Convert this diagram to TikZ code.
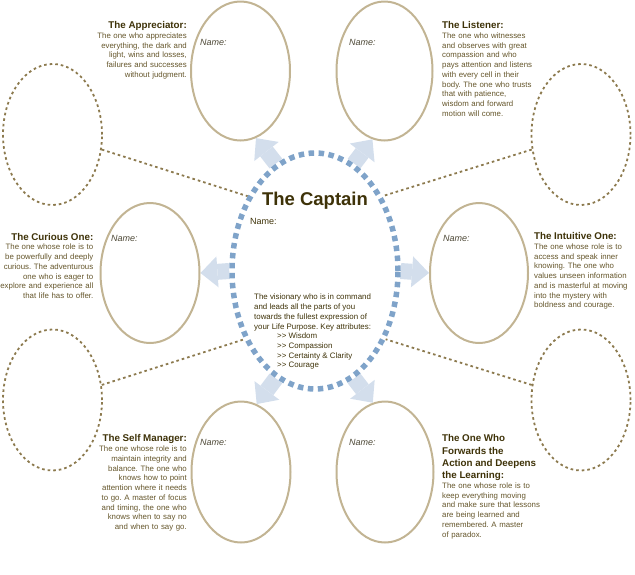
\documentclass[tikz,border=0pt]{standalone}
\usepackage{fontspec}
\setmainfont{Liberation Sans}
\usetikzlibrary{shapes.geometric,arrows.meta,backgrounds}
\definecolor{ellcol}{HTML}{C2B493}
\definecolor{dashcol}{HTML}{8C7A4E}
\definecolor{capcol}{HTML}{7FA3C9}
\definecolor{arrcol}{HTML}{D3DEEC}
\definecolor{titcol}{HTML}{3E3208}
\definecolor{bodcol}{HTML}{64552A}
\definecolor{namecol}{HTML}{4D4836}
\newcommand{\roletitle}{\fontsize{9.8}{12.2}\selectfont\bfseries\color{titcol}}
\newcommand{\attrmark}{>\kern0pt>}
\frenchspacing
\begin{document}
\frenchspacing
\begin{tikzpicture}[x=1pt,y=-1pt,
  role/.style={ellipse, draw=ellcol, line width=2pt, inner sep=0pt},
  ghost/.style={ellipse, draw=dashcol, line width=1.8pt, dash pattern=on 2.6pt off 3pt, minimum width=99pt, minimum height=141pt, inner sep=0pt},
  captain/.style={ellipse, draw=capcol, line width=5.5pt, dash pattern=on 5.5pt off 4.5pt, minimum width=166pt, minimum height=236pt, inner sep=0pt},
  bigarrow/.style={draw=arrcol, line width=16pt, -{Triangle[length=17pt,width=31pt,line width=0pt]}},
  link/.style={draw=dashcol, line width=1.8pt, dash pattern=on 2.6pt off 3pt},
  namelbl/.style={font=\fontsize{9}{11}\selectfont\itshape, text=namecol, anchor=base west, inner sep=0pt},
  desc/.style={inner sep=0pt, text width=130pt, font=\fontsize{7.85}{9.75}\selectfont\frenchspacing, text=bodcol},
]
\useasboundingbox (0,0) rectangle (635,574);

% role ellipses
\node[role, minimum width=99pt, minimum height=139pt] (appr) at (240.5,71) {};
\node[role, minimum width=96pt, minimum height=139pt] (list) at (384.5,71) {};
\node[role, minimum width=99pt, minimum height=140pt] (cur) at (150,273) {};
\node[role, minimum width=98pt, minimum height=140pt] (intu) at (479,273) {};
\node[role, minimum width=99pt, minimum height=141pt] (selfm) at (241,472) {};
\node[role, minimum width=97pt, minimum height=141pt] (forw) at (385,472) {};

% dashed ghost ellipses
\node[ghost] (ld1) at (52.5,134.5) {};
\node[ghost] (rd1) at (581,134.5) {};
\node[ghost] (ld2) at (52.5,400) {};
\node[ghost] (rd2) at (581,400) {};

% captain
\node[captain] (cap) at (315,271) {};

\begin{scope}[on background layer]
  \draw[bigarrow] (cap.110) -- (appr.-77);
  \draw[bigarrow] (cap.70) -- (list.-100);
  \draw[bigarrow] (cap.180) -- (cur.0);
  \draw[bigarrow] (cap.0) -- (intu.180);
  \draw[bigarrow] (cap.250) -- (selfm.77);
  \draw[bigarrow] (cap.290) -- (forw.100);
  \draw[link] (ld1.-17) -- (cap.132);
  \draw[link] (rd1.197) -- (cap.48);
  \draw[link] (ld2.17) -- (cap.224);
  \draw[link] (rd2.163) -- (cap.-44);
\end{scope}

% Name labels
\node[namelbl] (n1) at (200,45) {Name:};
\node[namelbl] (n2) at (349,45) {Name:};
\node[namelbl] (n3) at (111,241.5) {Name:};
\node[namelbl] (n4) at (443,241.5) {Name:};
\node[namelbl] (n5) at (200,445) {Name:};
\node[namelbl] (n6) at (349,445) {Name:};

% captain text
\node[anchor=base, inner sep=0pt, font=\fontsize{18.5}{20}\selectfont\bfseries, text=titcol] (captitle) at (315,205) {The Captain};
\node[anchor=base west, inner sep=0pt, font=\fontsize{9}{11}\selectfont, text=titcol] (capname) at (250,224.5) {Name:};
\node[anchor=north west, align=left, inner sep=0pt, font=\fontsize{7.9}{9.7}\selectfont\frenchspacing, text=titcol] (capdesc) at (254,294) {The visionary who is in command\\
and leads all the parts of you\\
towards the fullest expression of\\
your Life Purpose. Key attributes:\\
\hspace*{23pt}\attrmark{} Wisdom\\
\hspace*{23pt}\attrmark{} Compassion\\
\hspace*{23pt}\attrmark{} Certainty \& Clarity\\
\hspace*{23pt}\attrmark{} Courage};

% role descriptions
\node[desc, anchor=north east, align=right] (tappr) at (187,21.2) {{\roletitle The Appreciator:\par}
The one who appreciates\\
everything, the dark and\\
light, wins and losses,\\
failures and successes\\
without judgment.};

\node[desc, anchor=north west, align=left] (tlist) at (442,21.2) {{\roletitle The Listener:\par}
The one who witnesses\\
and observes with great\\
compassion and who\\
pays attention and listens\\
with every cell in their\\
body. The one who trusts\\
that with patience,\\
wisdom and forward\\
motion will come.};

\node[desc, anchor=north east, align=right] (tcur) at (93.5,232.9) {{\roletitle The Curious One:\par}
The one whose role is to\\
be powerfully and deeply\\
curious. The adventurous\\
one who is eager to\\
explore and experience all\\
that life has to offer.};

\node[desc, anchor=north west, align=left] (tintu) at (534,232.4) {{\roletitle The Intuitive One:\par}
The one whose role is to\\
access and speak inner\\
knowing. The one who\\
values unseen information\\
and is masterful at moving\\
into the mystery with\\
boldness and courage.};

\node[desc, anchor=north east, align=right] (tselfm) at (187,434.6) {{\roletitle The Self Manager:\par}
The one whose role is to\\
maintain integrity and\\
balance. The one who\\
knows how to point\\
attention where it needs\\
to go. A master of focus\\
and timing, the one who\\
knows when to say no\\
and when to say go.};

\node[desc, anchor=north west, align=left] (tforw) at (442,434.6) {{\roletitle The One Who\\
Forwards the\\
Action and Deepens\\
the Learning:\par}
The one whose role is to\\
keep everything moving\\
and make sure that lessons\\
are being learned and\\
remembered. A master\\
of paradox.};
\end{tikzpicture}
\end{document}
